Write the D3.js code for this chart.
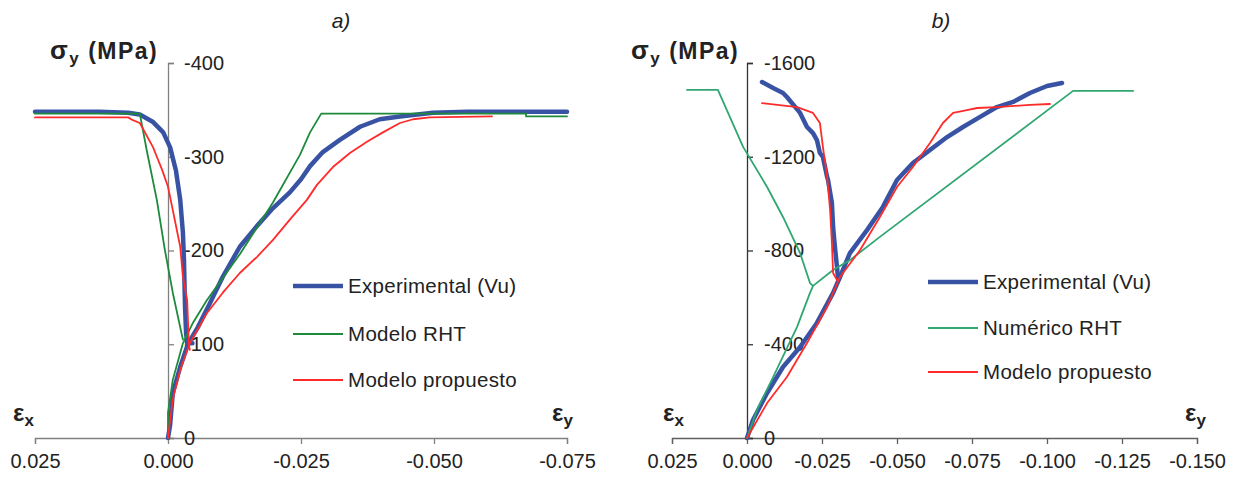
<!DOCTYPE html>
<html>
<head>
<meta charset="utf-8">
<script src="https://cdn.jsdelivr.net/npm/d3@7"></script>
<style>
  body { margin: 0; background: #fff; }
  text { font-family: "Liberation Sans", Arial, sans-serif; }
</style>
</head>
<body>
<div id="chart"></div>
<script>
// tick values
var ticksAx = [0.025, 0, -0.025, -0.05, -0.075];
var ticksAy = [0, -100, -200, -300, -400];
var ticksBx = [0.025, 0, -0.025, -0.05, -0.075, -0.1, -0.125, -0.15];
var ticksBy = [0, -400, -800, -1200, -1600];

// panel a) [strain, stress MPa] - left branch vs ex, right branch vs ey
var expA_ex = [[0.025,-348],[0.013,-348],[0.0075,-347],[0.0053,-345],[0.0028,-337],[0.0009,-326],[-0.0004,-310],[-0.0015,-285],[-0.0023,-254],[-0.0028,-219],[-0.0030,-190],[-0.0032,-140],[-0.0034,-112],[-0.0036,-101],[-0.0046,-101]];
var expA_ey = [[0,0],[-0.0004,-14],[-0.0009,-48],[-0.0023,-76],[-0.0038,-101],[-0.0056,-118],[-0.0079,-144],[-0.0103,-172],[-0.0135,-204],[-0.0167,-226],[-0.0197,-245],[-0.0229,-262],[-0.0250,-276],[-0.0267,-290],[-0.0291,-305],[-0.0323,-318],[-0.0361,-332],[-0.0398,-340],[-0.0436,-343],[-0.0498,-347],[-0.0562,-348],[-0.075,-348]];
var rhtA_ex = [[0.025,-346],[0.0053,-346],[0.0039,-304],[0.0021,-254],[0.0006,-201],[-0.0009,-155],[-0.0023,-118],[-0.0028,-105]];
var rhtA_ey = [[0,0],[0,-27],[-0.0009,-62],[-0.0028,-101],[-0.0047,-123],[-0.0073,-147],[-0.0135,-196],[-0.0197,-251],[-0.0248,-302],[-0.0267,-326],[-0.0288,-346],[-0.0673,-346],[-0.0673,-343],[-0.075,-343]];
var propA_ex = [[0.025,-342],[0.0075,-342],[0.0066,-339],[0.0053,-336],[0.0028,-310],[0.0021,-300],[0.0011,-286],[0,-268],[-0.0009,-243],[-0.0023,-204],[-0.0028,-172],[-0.0036,-147],[-0.0038,-118],[-0.0039,-101],[-0.0041,-94]];
var propA_ey = [[0,0],[-0.0004,-19],[-0.0009,-41],[-0.0023,-73],[-0.0041,-101],[-0.0073,-133],[-0.0103,-155],[-0.0135,-176],[-0.0167,-193],[-0.0197,-211],[-0.0229,-233],[-0.0261,-254],[-0.0280,-270],[-0.0310,-289],[-0.0342,-304],[-0.0374,-316],[-0.0404,-326],[-0.0436,-336],[-0.0461,-340],[-0.0492,-342],[-0.0609,-343]];

// panel b)
var expB_ex = [[-0.005,-1519],[-0.0087,-1493],[-0.012,-1472],[-0.0133,-1455],[-0.0177,-1387],[-0.020,-1327],[-0.022,-1301],[-0.0233,-1271],[-0.0243,-1216],[-0.0253,-1199],[-0.0267,-1114],[-0.027,-1101],[-0.0283,-1003],[-0.0287,-900],[-0.0293,-815],[-0.030,-730],[-0.0303,-687]];
var expB_ey = [[0,0],[-0.002,-77],[-0.0067,-192],[-0.012,-303],[-0.0177,-388],[-0.0233,-491],[-0.0287,-619],[-0.031,-687],[-0.0343,-789],[-0.040,-887],[-0.0453,-986],[-0.050,-1101],[-0.0553,-1173],[-0.061,-1229],[-0.0667,-1284],[-0.072,-1327],[-0.0777,-1370],[-0.0833,-1412],[-0.0887,-1434],[-0.0943,-1472],[-0.100,-1502],[-0.105,-1515]];
var rhtB_ex = [[0.020,-1485],[0.0097,-1485],[0.0013,-1242],[-0.0067,-1071],[-0.012,-943],[-0.0177,-789],[-0.021,-661],[-0.022,-649]];
var rhtB_ey = [[0,0],[-0.0033,-119],[-0.0087,-260],[-0.0167,-474],[-0.021,-619],[-0.022,-649],[-0.0287,-717],[-0.0343,-759],[-0.0443,-858],[-0.1087,-1481],[-0.1287,-1481]];
var propB_ex = [[-0.005,-1429],[-0.0167,-1412],[-0.022,-1387],[-0.0243,-1344],[-0.0253,-1242],[-0.0267,-1114],[-0.0277,-973],[-0.0283,-832],[-0.0287,-704],[-0.030,-674]];
var propB_ey = [[0,0],[-0.0067,-149],[-0.0133,-260],[-0.020,-405],[-0.0267,-559],[-0.031,-687],[-0.0377,-802],[-0.0443,-943],[-0.050,-1071],[-0.0553,-1156],[-0.061,-1259],[-0.0653,-1344],[-0.0687,-1387],[-0.0733,-1399],[-0.0767,-1408],[-0.0833,-1412],[-0.0943,-1421],[-0.101,-1425]];

var legendA = ["Experimental (Vu)", "Modelo RHT", "Modelo propuesto"];
var legendB = ["Experimental (Vu)", "Numérico RHT", "Modelo propuesto"];

var blue = "#3853a3", red = "#ff2b2b", greenA = "#1e8a3c", greenB = "#30a672";

var svg = d3.select("#chart").append("svg")
    .attr("width", 1242)
    .attr("height", 481);
svg.append("rect").attr("width", 1242).attr("height", 481).attr("fill", "#fff");

function fmtX(d) {
    return d.toFixed(3);
}

function drawPanel(opt) {
    var g = svg.append("g");
    var x = d3.scaleLinear().domain(opt.xDomain).range(opt.xRange);
    var y = d3.scaleLinear().domain(opt.yDomain).range([438, 63]);

    // x axis
    var xAxis = g.append("g")
        .attr("transform", "translate(0," + y(0) + ")")
        .call(d3.axisBottom(x).tickValues(opt.xTicks).tickFormat(fmtX).tickSizeOuter(0).tickSize(6).tickPadding(10));
    xAxis.selectAll("path, line").attr("stroke", opt.xAxisColor).attr("stroke-width", 1.3);
    xAxis.selectAll("text").attr("font-size", "20px").attr("fill", "#222")
        .attr("font-family", "Liberation Sans, Arial, sans-serif");

    // y axis
    var yAxis = g.append("g")
        .attr("transform", "translate(" + x(0) + ",0)")
        .call(d3.axisRight(y).tickValues(opt.yTicks).tickFormat(function (d) { return String(d); })
            .tickSizeOuter(0).tickSize(6).tickPadding(opt.yPad));
    yAxis.selectAll("path, line").attr("stroke", opt.yAxisColor).attr("stroke-width", 1.3);
    yAxis.selectAll("text").attr("font-size", "20px").attr("fill", "#222")
        .attr("font-family", "Liberation Sans, Arial, sans-serif");

    var line = d3.line()
        .x(function (d) { return x(d[0]); })
        .y(function (d) { return y(d[1]); });

    opt.series.forEach(function (s) {
        s.data.forEach(function (arr) {
            g.append("path")
                .datum(arr)
                .attr("d", line)
                .attr("fill", "none")
                .attr("stroke", s.color)
                .attr("stroke-width", s.width)
                .attr("stroke-linejoin", "round")
                .attr("stroke-linecap", "round");
        });
    });

    // legend
    opt.series.forEach(function (s, i) {
        var ly = opt.legY[i];
        g.append("line")
            .attr("x1", opt.legX).attr("x2", opt.legX + 50)
            .attr("y1", ly).attr("y2", ly)
            .attr("stroke", s.color)
            .attr("stroke-width", s.width);
        g.append("text")
            .attr("x", opt.legX + 55)
            .attr("y", ly + 7)
            .attr("font-size", "20.5px")
            .attr("letter-spacing", "0.3px")
            .attr("fill", "#222")
            .text(opt.legend[i]);
    });

    // axis titles
    var t = g.append("text")
        .attr("x", opt.sigX).attr("y", 59)
        .attr("font-size", "23px").attr("font-weight", "bold")
        .attr("letter-spacing", "1.5px").attr("fill", "#222");
    t.append("tspan").attr("font-size", "26px").text("σ");
    t.append("tspan").attr("font-size", "17px").attr("dy", 5).text("y");
    t.append("tspan").attr("dy", -5).text(" (MPa)");

    var ex = g.append("text")
        .attr("x", opt.exX).attr("y", 421)
        .attr("font-size", "24px").attr("font-weight", "bold").attr("fill", "#222");
    ex.append("tspan").text("ε");
    ex.append("tspan").attr("font-size", "17px").attr("dy", 5).text("x");

    var ey = g.append("text")
        .attr("x", opt.eyX).attr("y", 421)
        .attr("font-size", "24px").attr("font-weight", "bold").attr("fill", "#222");
    ey.append("tspan").text("ε");
    ey.append("tspan").attr("font-size", "17px").attr("dy", 5).text("y");

    g.append("text")
        .attr("x", opt.titleX).attr("y", 28)
        .attr("text-anchor", "middle")
        .attr("font-family", "Liberation Serif, Times New Roman, serif")
        .attr("font-style", "italic")
        .attr("font-size", "21px")
        .attr("fill", "#222")
        .text(opt.title);
}

drawPanel({
    xDomain: [0.025, -0.075], xRange: [35, 567],
    yDomain: [0, -400],
    xTicks: ticksAx, yTicks: ticksAy,
    xAxisColor: "#808080", yAxisColor: "#808080", yPad: 10,
    series: [
        {data: [expA_ex, expA_ey], color: blue, width: 4.5},
        {data: [rhtA_ex, rhtA_ey], color: greenA, width: 1.8},
        {data: [propA_ex, propA_ey], color: red, width: 1.8}
    ],
    legend: legendA, legX: 293, legY: [286, 334, 380],
    sigX: 50, exX: 13, eyX: 552, titleX: 341, title: "a)"
});

drawPanel({
    xDomain: [0.025, -0.15], xRange: [672, 1197],
    yDomain: [0, -1600],
    xTicks: ticksBx, yTicks: ticksBy,
    xAxisColor: "#606060", yAxisColor: "#333", yPad: 11,
    series: [
        {data: [expB_ex, expB_ey], color: blue, width: 4.5},
        {data: [rhtB_ex, rhtB_ey], color: greenB, width: 1.8},
        {data: [propB_ex, propB_ey], color: red, width: 1.8}
    ],
    legend: legendB, legX: 928, legY: [282, 328, 372],
    sigX: 631, exX: 663, eyX: 1185, titleX: 941, title: "b)"
});
</script>
</body>
</html>
